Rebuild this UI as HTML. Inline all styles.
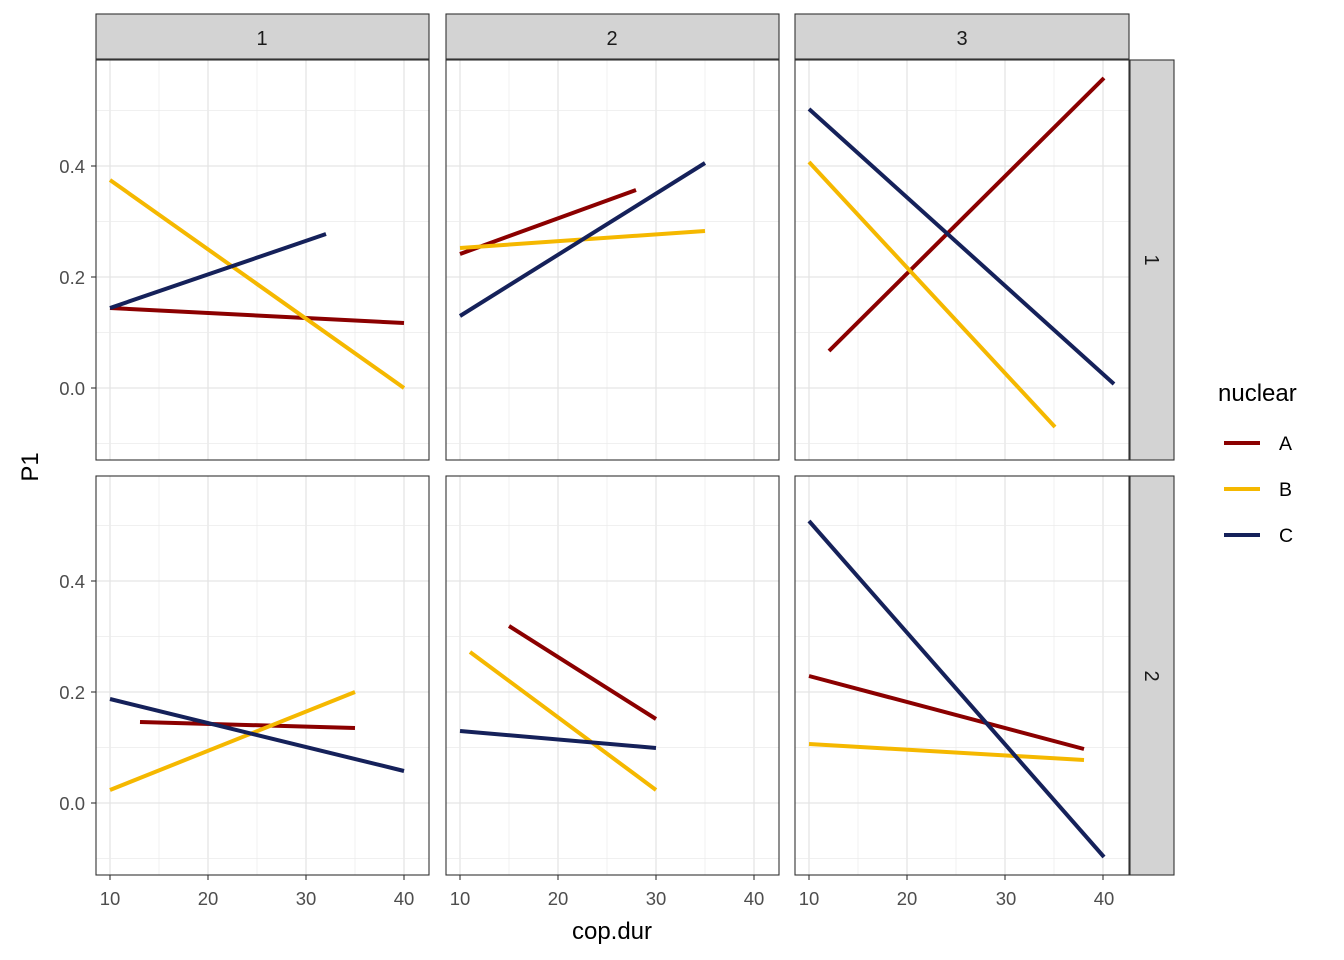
<!DOCTYPE html>
<html><head><meta charset="utf-8"><style>body{margin:0;background:#fff}svg{display:block;font-family:"Liberation Sans",Arial,sans-serif}</style></head>
<body>
<svg id="s" width="1344" height="960" xmlns="http://www.w3.org/2000/svg">
<rect width="1344" height="960" fill="#fff"/>
<g id="grid"></g>
<g id="lines" stroke-width="4" fill="none" stroke-linecap="butt">
<line x1="110" y1="308" x2="404" y2="323" stroke="#8B0000"/>
<line x1="110" y1="180" x2="404" y2="388" stroke="#F5B800"/>
<line x1="110" y1="308" x2="326" y2="234" stroke="#15215A"/>
<line x1="460" y1="254" x2="636" y2="190" stroke="#8B0000"/>
<line x1="460" y1="248" x2="705" y2="231" stroke="#F5B800"/>
<line x1="460" y1="316" x2="705" y2="163" stroke="#15215A"/>
<line x1="829" y1="351" x2="1104" y2="78" stroke="#8B0000"/>
<line x1="809" y1="162" x2="1055" y2="427" stroke="#F5B800"/>
<line x1="809" y1="109" x2="1114" y2="384" stroke="#15215A"/>
<line x1="140" y1="722" x2="355" y2="728" stroke="#8B0000"/>
<line x1="110" y1="790" x2="355" y2="692" stroke="#F5B800"/>
<line x1="110" y1="699" x2="404" y2="771" stroke="#15215A"/>
<line x1="509" y1="626" x2="656" y2="719" stroke="#8B0000"/>
<line x1="470" y1="652" x2="656" y2="790" stroke="#F5B800"/>
<line x1="460" y1="731" x2="656" y2="748" stroke="#15215A"/>
<line x1="809" y1="676" x2="1084" y2="749" stroke="#8B0000"/>
<line x1="809" y1="744" x2="1084" y2="760" stroke="#F5B800"/>
<line x1="809" y1="521" x2="1104" y2="857" stroke="#15215A"/>
</g>
<g id="frames"></g>
<g font-size="20" fill="#1A1A1A" text-anchor="middle">
<text x="262" y="45">1</text><text x="612" y="45">2</text><text x="962" y="45">3</text>
<text transform="translate(1145,260) rotate(90)">1</text>
<text transform="translate(1145,676) rotate(90)">2</text>
</g>
<g font-size="18.5" fill="#4D4D4D" text-anchor="end">
<text x="85" y="173">0.4</text><text x="85" y="284">0.2</text><text x="85" y="395">0.0</text>
<text x="85" y="588">0.4</text><text x="85" y="699">0.2</text><text x="85" y="810">0.0</text>
</g>
<g font-size="18.5" fill="#4D4D4D" text-anchor="middle">
<text x="110" y="905">10</text><text x="208" y="905">20</text><text x="306" y="905">30</text><text x="404" y="905">40</text>
<text x="460" y="905">10</text><text x="558" y="905">20</text><text x="656" y="905">30</text><text x="754" y="905">40</text>
<text x="809" y="905">10</text><text x="907" y="905">20</text><text x="1006" y="905">30</text><text x="1104" y="905">40</text>
</g>
<text x="612" y="939" font-size="24" text-anchor="middle" fill="#000">cop.dur</text>
<text transform="translate(38,467) rotate(-90)" font-size="24" text-anchor="middle" fill="#000">P1</text>
<text x="1218" y="401" font-size="24" fill="#000">nuclear</text>
<g stroke-width="4">
<line x1="1224" y1="443" x2="1260" y2="443" stroke="#8B0000"/>
<line x1="1224" y1="489" x2="1260" y2="489" stroke="#F5B800"/>
<line x1="1224" y1="535" x2="1260" y2="535" stroke="#15215A"/>
</g>
<g font-size="19.5" fill="#000">
<text x="1279" y="450">A</text><text x="1279" y="496">B</text><text x="1279" y="542">C</text>
</g>
</svg>
<script>
var NS="http://www.w3.org/2000/svg",g=document.getElementById('grid'),f=document.getElementById('frames');
function el(p,t,a){var e=document.createElementNS(NS,t);for(var k in a)e.setAttribute(k,a[k]);p.appendChild(e);}
var cols=[[96,429,110],[446,779,460],[795,1129,809]],rows=[[60,460,388],[476,875,803]];
cols.forEach(function(c){rows.forEach(function(r){
 for(var i=0;i<4;i++){var x=c[2]+i*98;el(g,'line',{x1:x,x2:x,y1:r[0],y2:r[1],stroke:'#E5E5E5','stroke-width':1.3});}
 for(var i=0;i<3;i++){var x=c[2]+49+i*98;el(g,'line',{x1:x,x2:x,y1:r[0],y2:r[1],stroke:'#EBEBEB','stroke-width':0.7});}
 [0,0.2,0.4].forEach(function(v){var y=r[2]-v*555;el(g,'line',{x1:c[0],x2:c[1],y1:y,y2:y,stroke:'#E5E5E5','stroke-width':1.3});});
 [-0.1,0.1,0.3,0.5].forEach(function(v){var y=r[2]-v*555;el(g,'line',{x1:c[0],x2:c[1],y1:y,y2:y,stroke:'#EBEBEB','stroke-width':0.7});});
 el(f,'rect',{x:c[0],y:r[0],width:c[1]-c[0],height:r[1]-r[0],fill:'none',stroke:'#333','stroke-width':1.1});
});
 el(f,'rect',{x:c[0],y:14,width:c[1]-c[0],height:45,fill:'#D3D3D3',stroke:'#333','stroke-width':1.1});
 for(var i=0;i<4;i++){var x=c[2]+i*98;el(f,'line',{x1:x,x2:x,y1:875,y2:880,stroke:'#333','stroke-width':1.1});}
});
rows.forEach(function(r){
 el(f,'rect',{x:1130,y:r[0],width:44,height:r[1]-r[0],fill:'#D3D3D3',stroke:'#333','stroke-width':1.1});
 [0,0.2,0.4].forEach(function(v){var y=r[2]-v*555;el(f,'line',{x1:91,x2:96,y1:y,y2:y,stroke:'#333','stroke-width':1.1});});
});
</script>
</body></html>
